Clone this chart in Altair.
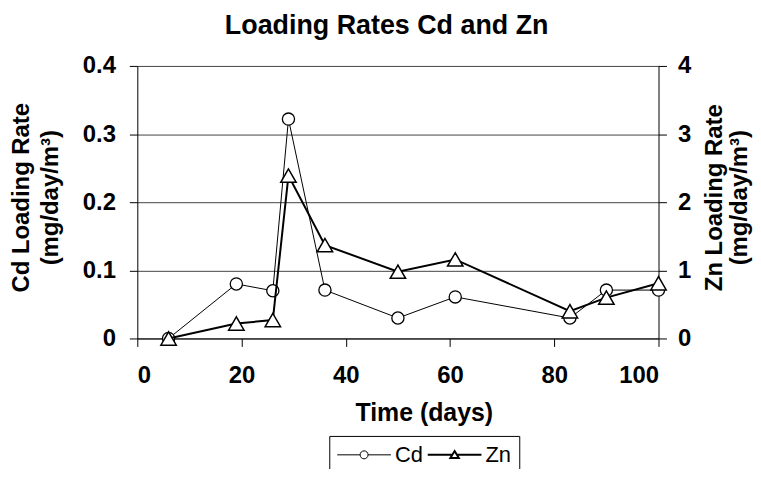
import altair as alt
import pandas as pd

# ---- data ----
days = [6, 19, 26, 29, 36, 50, 61, 83, 90, 100]
cd_rate = [0.0, 0.080, 0.070, 0.322, 0.071, 0.030, 0.061, 0.030, 0.071, 0.071]
zn_rate = [0.0, 0.22, 0.27, 2.39, 1.37, 0.98, 1.16, 0.40, 0.60, 0.81]
series_names = ["Cd", "Zn"]

x_ticks = [0, 20, 40, 60, 80, 100]
cd_ticks = [0, 0.1, 0.2, 0.3, 0.4]
zn_ticks = [0, 1, 2, 3, 4]

FONT = "Liberation Sans"

wide = pd.DataFrame({"day": days, "cd": cd_rate, "zn": zn_rate})
legend_df = pd.DataFrame({"series": series_names})

# legend symbols: line with marker in the middle (custom SVG paths)
k = 0.4418
CD_PATH = ("M-5.4,0H-0.8M0.8,0H5.4"
           f"M0.8,0C0.8,{k} {k},0.8 0,0.8C-{k},0.8 -0.8,{k} -0.8,0"
           f"C-0.8,-{k} -{k},-0.8 0,-0.8C{k},-0.8 0.8,-{k} 0.8,0Z")
ZN_PATH = "M-5.4,0H-0.46M0.46,0H5.4M0,-0.75L0.85,0.65L-0.85,0.65Z"

x_enc = alt.X("day:Q", scale=alt.Scale(domain=[0, 100], nice=False),
              axis=alt.Axis(values=x_ticks, title="Time (days)", grid=False,
                            domainColor="black", tickColor="black", tickSize=8,
                            labelFont=FONT, labelFontSize=24, labelFontWeight="bold",
                            labelColor="black", labelPadding=17,
                            titleFont=FONT, titleFontSize=25, titleFontWeight="bold",
                            titleColor="black", titleX=288, titleY=82,
                            titleAlign="center", titleBaseline="alphabetic"))

cd_y = alt.Y("cd:Q", scale=alt.Scale(domain=[0, 0.4], nice=False),
             axis=alt.Axis(orient="left", values=cd_ticks, format=".1~f",
                           grid=True, gridColor="#444444", gridWidth=1,
                           domainColor="black", tickColor="black", tickSize=8,
                           labelFont=FONT, labelFontSize=24, labelFontWeight="bold",
                           labelColor="black", labelPadding=14,
                           title=["Cd Loading Rate", "(mg/day/m³)"],
                           titleFont=FONT, titleFontSize=24, titleFontWeight="bold",
                           titleColor="black", titleAngle=270, titleX=-109, titleY=132,
                           titleAlign="center", titleBaseline="alphabetic",
                           titleLineHeight=29))

zn_y = alt.Y("zn:Q", scale=alt.Scale(domain=[0, 4], nice=False),
             axis=alt.Axis(orient="right", values=zn_ticks, format="d", grid=False,
                           domainColor="black", tickColor="black", tickSize=8,
                           labelFont=FONT, labelFontSize=24, labelFontWeight="bold",
                           labelColor="black", labelPadding=11,
                           title=["Zn Loading Rate", "(mg/day/m³)"],
                           titleFont=FONT, titleFontSize=24, titleFontWeight="bold",
                           titleColor="black", titleAngle=270, titleX=63, titleY=132,
                           titleAlign="center", titleBaseline="alphabetic",
                           titleLineHeight=25))

base = alt.Chart(wide)

cd_line = base.mark_line(color="black", strokeWidth=1).encode(x=x_enc, y=cd_y)
cd_pts = base.mark_point(shape="circle", size=150, fill="white", stroke="black",
                         strokeWidth=1.3, opacity=1).encode(x=x_enc, y=cd_y)

leg = alt.Legend(title=None, orient="none", legendX=193, legendY=372,
                 direction="horizontal", columns=2, symbolSize=100,
                 symbolOffset=16, labelOffset=20, columnPadding=0,
                 labelExpr="datum.label == 'Zn' ? 'Zn    ' : datum.label",
                 labelFont=FONT, labelFontSize=22, labelColor="black",
                 strokeColor="black", fillColor="white", padding=8,
                 symbolOpacity=1, symbolStrokeColor="black", cornerRadius=0)

# invisible marks that only carry the legend (line + marker symbols)
legend_layer = alt.Chart(legend_df).mark_point(filled=False, color="black",
                                               opacity=0).encode(
    shape=alt.Shape("series:N", scale=alt.Scale(domain=series_names,
                                                range=[CD_PATH, ZN_PATH]),
                    legend=leg),
    strokeWidth=alt.StrokeWidth("series:N", scale=alt.Scale(domain=series_names,
                                                           range=[1, 2]),
                                legend=leg),
)

zn_line = base.mark_line(color="black", strokeWidth=2).encode(x=x_enc, y=zn_y)
zn_pts = base.mark_point(shape="triangle-up", size=240, fill="white", stroke="black",
                         strokeWidth=1.5, opacity=1).encode(x=x_enc, y=zn_y)

left = alt.layer(cd_line, cd_pts)
right = alt.layer(zn_line, zn_pts)

chart = alt.layer(left, right, legend_layer).resolve_scale(y="independent").properties(
    width=524, height=274,
    padding={"left": 130, "top": 57, "right": 95, "bottom": 130},
    autosize=alt.AutoSizeParams(type="none"),
    background="white",
    title=alt.TitleParams("Loading Rates Cd and Zn", font=FONT, fontSize=27,
                          fontWeight="bold", color="black", anchor="start",
                          frame="group", dx=88, dy=21, offset=14,
                          baseline="alphabetic"),
).configure_view(strokeWidth=0)

chart.save("out.html", embed_options={"renderer": "svg", "actions": False})
